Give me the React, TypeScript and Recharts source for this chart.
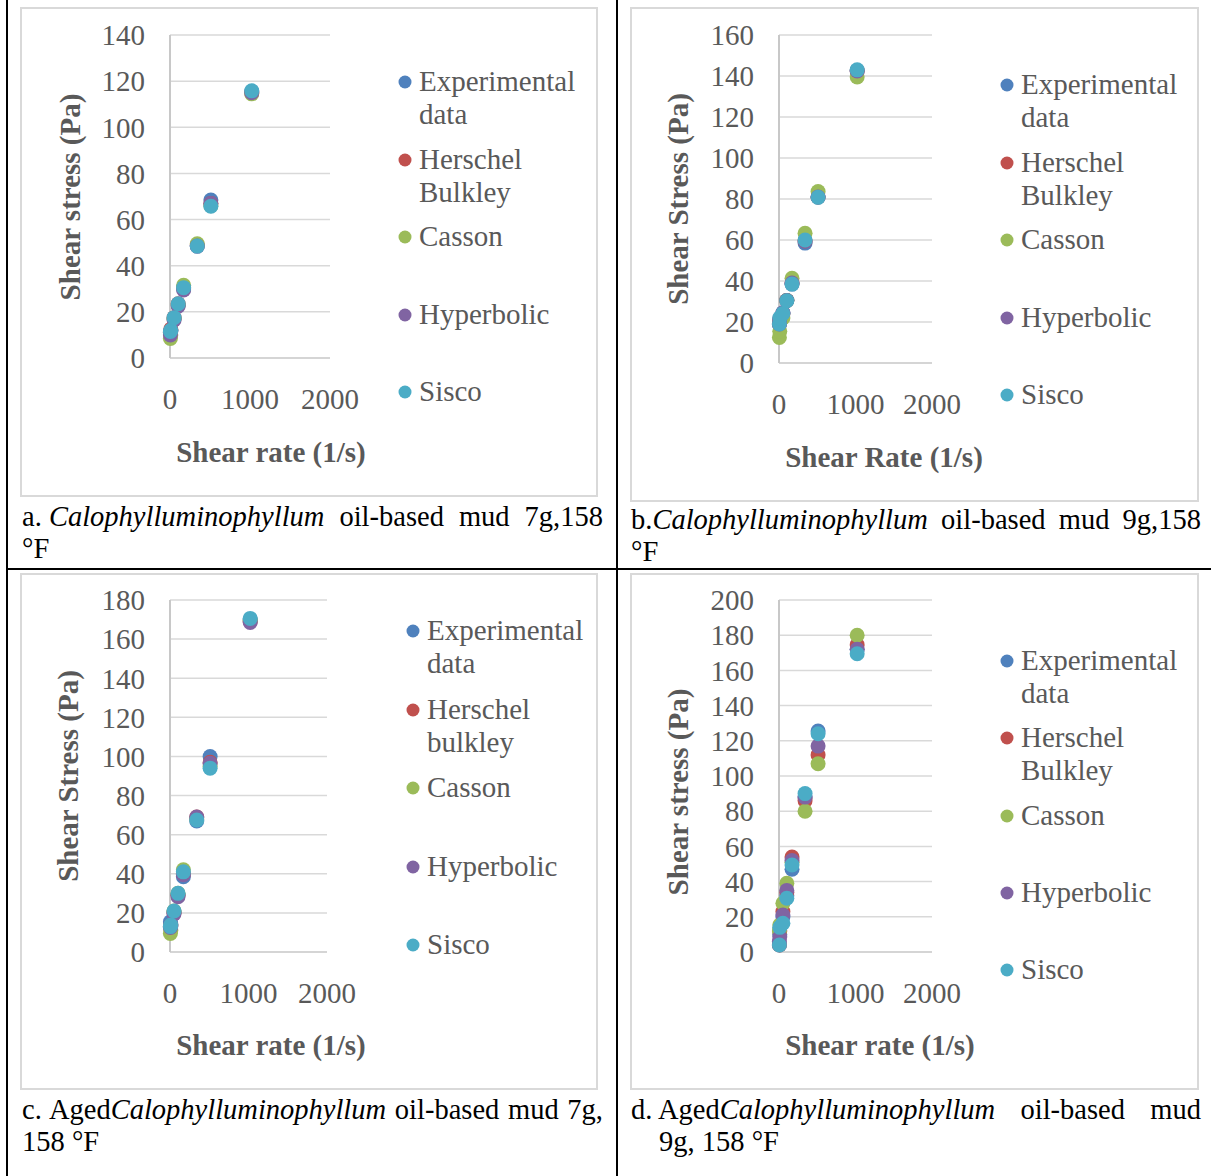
import React from "react";
import { CartesianGrid, Label, Scatter, ScatterChart, XAxis, YAxis } from "recharts";

// shear rates (1/s) of the viscometer readings
const shearRate = [5.11, 10.22, 51.1, 102.2, 170.3, 340.6, 510.9, 1021.8];
const xTicks = [0, 1000, 2000];

// a. 7g, 158 °F
const aExperimental = [11, 12, 17, 23, 30, 48.5, 68.5, 115.5];
const aHerschel = [11, 12.5, 17.5, 23.5, 30.5, 49, 67, 115];
const aCasson = [8.5, 10, 17, 23, 31.5, 49.5, 66, 114.5];
const aHyperbolic = [10, 11.5, 16.5, 22.5, 29.5, 48.5, 67, 115];
const aSisco = [11.5, 12, 17.5, 23.5, 30.5, 48.5, 65.8, 115.8];

// b. 9g, 158 °F
const bExperimental = [19, 21, 24.5, 30.5, 38.5, 58.5, 81, 142.5];
const bHerschel = [19, 21, 24, 30.5, 39, 59.5, 81, 142.5];
const bCasson = [12.5, 15.5, 22, 30.5, 41.3, 63.3, 83.6, 139.5];
const bHyperbolic = [19, 21.5, 24.5, 30.5, 39, 59.5, 81, 142.5];
const bSisco = [19, 22, 24.2, 30.4, 38.5, 60, 80.8, 143];

// c. aged 7g, 158 °F
const cExperimental = [15.5, 14, 20.5, 29.5, 38.5, 67, 100, 170];
const cHerschel = [13, 13.5, 20, 29, 40, 69, 97, 169];
const cCasson = [9.5, 11, 21, 30, 42, 68, 95, 169.5];
const cHyperbolic = [12.5, 13, 19.5, 28.3, 39.5, 69, 96.5, 168.5];
const cSisco = [13, 13.8, 21, 30, 41, 67.5, 94, 170.6];

// d. aged 9g, 158 °F
const dExperimental = [4, 10, 20, 32, 47, 88, 125.5, 172];
const dHerschel = [4, 12, 23, 34, 54, 86, 112, 174.5];
const dCasson = [12, 15.3, 27.7, 39, 51, 80, 107, 180];
const dHyperbolic = [6, 8.7, 21, 35, 52, 88, 117, 172];
const dSisco = [4, 14, 16.3, 30.5, 49.4, 90, 124, 169.5];

const colors = ["#4F81BD", "#C0504D", "#9BBB59", "#8064A2", "#4BACC6"];
const serif = "'Liberation Serif', 'Times New Roman', serif";
const grey = "#595959";
const fs = 29;

const toPoints = (vals: number[]) => shearRate.map((x, i) => ({ x, y: vals[i] }));

const Panel = ({ p }: { p: any }) => {
  const w = p.box.w - 4;
  const h = p.box.h - 4;
  const yAxisW = 80;
  const yTicks: number[] = [];
  for (let v = 0; v <= p.yMax; v += 20) yTicks.push(v);
  return (
    <div
      style={{
        position: "absolute",
        left: p.box.left,
        top: p.box.top,
        width: w,
        height: h,
        border: "2px solid #D9D9D9",
        background: "#fff",
      }}
    >
      <ScatterChart
        width={w}
        height={h}
        margin={{
          top: p.plot.top,
          left: p.plot.left - yAxisW,
          right: w - p.plot.left - p.plot.w,
          bottom: h - p.plot.top - p.plot.h - 100,
        }}
      >
        <CartesianGrid vertical={false} stroke="#D9D9D9" strokeWidth={1.5} />
        <XAxis
          type="number"
          dataKey="x"
          domain={[0, 2000]}
          ticks={xTicks}
          interval={0}
          height={100}
          tickSize={0}
          tickMargin={30}
          axisLine={{ stroke: "#D0D0D0", strokeWidth: 1.5 }}
          tick={{ fill: grey, fontSize: fs, fontFamily: serif }}
        >
          <Label
            content={() => (
              <text
                x={p.xTitle.x}
                y={p.xTitle.y}
                textAnchor="middle"
                dominantBaseline="central"
                fill={grey}
                fontSize={fs}
                fontWeight="bold"
                fontFamily={serif}
              >
                {p.xTitleText}
              </text>
            )}
          />
        </XAxis>
        <YAxis
          type="number"
          dataKey="y"
          domain={[0, p.yMax]}
          ticks={yTicks}
          interval={0}
          width={yAxisW}
          tickSize={0}
          tickMargin={25}
          axisLine={{ stroke: "#C8C8C8", strokeWidth: 2 }}
          tick={{ fill: grey, fontSize: fs, fontFamily: serif }}
        >
          <Label
            content={() => (
              <text
                x={p.yTitle.x}
                y={p.yTitle.y}
                transform={`rotate(-90 ${p.yTitle.x} ${p.yTitle.y})`}
                textAnchor="middle"
                dominantBaseline="central"
                fill={grey}
                fontSize={fs}
                fontWeight="bold"
                fontFamily={serif}
              >
                {p.yTitleText}
              </text>
            )}
          />
        </YAxis>
        {p.series.map((s: number[], i: number) => (
          <Scatter
            key={i}
            data={toPoints(s)}
            fill={colors[i]}
            shape={(props: any) => <circle cx={props.cx} cy={props.cy} r={7.5} fill={colors[i]} />}
            isAnimationActive={false}
          />
        ))}
      </ScatterChart>
    </div>
  );
};

const Legendish = ({ l }: { l: any }) => (
  <>
    {l.labels.map((lab: string, i: number) => {
      const lines = lab.split("\n");
      const y = l.top + i * l.step;
      return (
        <div key={i}>
          <svg style={{ position: "absolute", left: l.x - 7, top: y - 7 }} width={14} height={14}>
            <circle cx={7} cy={7} r={6.5} fill={colors[i]} />
          </svg>
          {lines.map((t, j) => (
            <div
              key={j}
              style={{
                position: "absolute",
                left: l.x + 14,
                top: y - 18 + j * 33,
                lineHeight: "34px",
                fontSize: fs,
                fontFamily: serif,
                color: grey,
                whiteSpace: "nowrap",
              }}
            >
              {t}
            </div>
          ))}
        </div>
      );
    })}
  </>
);

const Caption = ({ left, top, width, first, second, indent }: any) => (
  <div style={{ position: "absolute", left, top, width, fontFamily: serif, fontSize: 28.5, lineHeight: "32px", color: "#000" }}>
    <div style={{ textAlign: "justify", textAlignLast: "justify", whiteSpace: "nowrap" as any }}>{first}</div>
    <div style={{ paddingLeft: indent || 0 }}>{second}</div>
  </div>
);

const Tight = ({ children }: any) => <span style={{ display: "inline-block" }}>{children}</span>;

const panels = [
  {
    box: { left: 20, top: 7, w: 578, h: 490 },
    plot: { left: 148, top: 26, w: 160, h: 323 },
    yMax: 140,
    series: [aExperimental, aHerschel, aCasson, aHyperbolic, aSisco],
    yTitleText: "Shear stress (Pa)",
    xTitleText: "Shear rate (1/s)",
    yTitle: { x: 48, y: 188 },
    xTitle: { x: 249, y: 443 },
  },
  {
    box: { left: 630, top: 7, w: 569, h: 495 },
    plot: { left: 147, top: 26, w: 153, h: 328 },
    yMax: 160,
    series: [bExperimental, bHerschel, bCasson, bHyperbolic, bSisco],
    yTitleText: "Shear Stress (Pa)",
    xTitleText: "Shear Rate (1/s)",
    yTitle: { x: 46, y: 190 },
    xTitle: { x: 252, y: 448 },
  },
  {
    box: { left: 20, top: 573, w: 578, h: 517 },
    plot: { left: 148, top: 25, w: 157, h: 352 },
    yMax: 180,
    series: [cExperimental, cHerschel, cCasson, cHyperbolic, cSisco],
    yTitleText: "Shear Stress (Pa)",
    xTitleText: "Shear rate (1/s)",
    yTitle: { x: 46, y: 201 },
    xTitle: { x: 249, y: 470 },
  },
  {
    box: { left: 630, top: 573, w: 569, h: 517 },
    plot: { left: 147, top: 25, w: 153, h: 352 },
    yMax: 200,
    series: [dExperimental, dHerschel, dCasson, dHyperbolic, dSisco],
    yTitleText: "Shear stress (Pa)",
    xTitleText: "Shear rate (1/s)",
    yTitle: { x: 46, y: 217 },
    xTitle: { x: 248, y: 470 },
  },
];

const legends = [
  { x: 405, top: 82, step: 77.5, labels: ["Experimental\ndata", "Herschel\nBulkley", "Casson", "Hyperbolic", "Sisco"] },
  { x: 1007, top: 85, step: 77.5, labels: ["Experimental\ndata", "Herschel\nBulkley", "Casson", "Hyperbolic", "Sisco"] },
  { x: 413, top: 631, step: 78.5, labels: ["Experimental\ndata", "Herschel\nbulkley", "Casson", "Hyperbolic", "Sisco"] },
  { x: 1007, top: 661, step: 77.3, labels: ["Experimental\ndata", "Herschel\nBulkley", "Casson", "Hyperbolic", "Sisco"] },
];

export default function App() {
  return (
    <div style={{ position: "absolute", left: 0, top: 0, width: 1211, height: 1176, background: "#fff", overflow: "hidden" }}>
      {/* table rules */}
      <div style={{ position: "absolute", left: 6, top: 0, width: 2, height: 1176, background: "#000" }} />
      <div style={{ position: "absolute", left: 616, top: 0, width: 2, height: 1176, background: "#000" }} />
      <div style={{ position: "absolute", left: 6, top: 568, width: 1205, height: 2, background: "#000" }} />

      {panels.map((p, i) => (
        <Panel key={i} p={p} />
      ))}
      {legends.map((l, i) => (
        <Legendish key={i} l={l} />
      ))}

      <Caption
        left={22}
        top={501}
        width={581}
        first={<><Tight>a. <i>Calophylluminophyllum</i></Tight> oil-based mud 7g,158</>}
        second="°F"
      />
      <Caption
        left={631}
        top={504}
        width={570}
        first={<>b.<i>Calophylluminophyllum</i> oil-based mud 9g,158</>}
        second="°F"
      />
      <Caption
        left={22}
        top={1094}
        width={581}
        first={<>c. Aged<i>Calophylluminophyllum</i> oil-based mud 7g,</>}
        second="158 °F"
      />
      <Caption
        left={631}
        top={1094}
        width={570}
        first={<><Tight>d. Aged<i>Calophylluminophyllum</i></Tight> oil-based mud</>}
        second="9g, 158 °F"
        indent={28}
      />
    </div>
  );
}
